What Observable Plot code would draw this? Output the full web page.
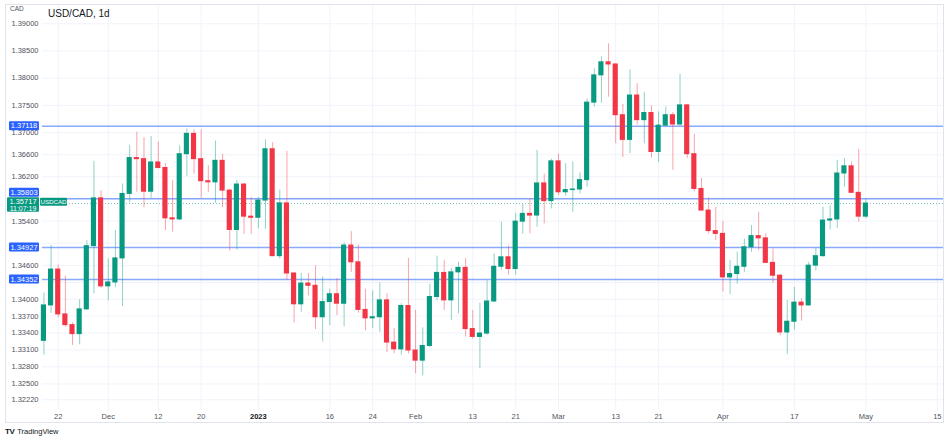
<!DOCTYPE html>
<html><head><meta charset="utf-8">
<script src="https://cdn.jsdelivr.net/npm/d3@7"></script>
<script src="https://cdn.jsdelivr.net/npm/@observablehq/plot@0.6"></script>
<style>
body{margin:0;background:#fff;font-family:"Liberation Sans",Arial,sans-serif;}
#wrap{position:relative;width:949px;height:442px;overflow:hidden;background:#fff;}
#frame{position:absolute;left:5px;top:4px;width:939px;height:419px;border:1px solid #e0e3eb;box-sizing:border-box;pointer-events:none}
#title{position:absolute;left:48px;top:8px;font-size:10px;color:#131722;}
#cad{position:absolute;left:10px;top:5px;font-size:6.5px;color:#50535e;}
#logo{position:absolute;left:5px;top:427px;font-size:7.5px;color:#131722;}
#logo b{font-size:8px;letter-spacing:-0.5px;margin-right:3px;}
</style></head><body>
<div id="wrap"><div id="chart"></div><div id="frame"></div>
<div id="cad">CAD</div><div id="title">USD/CAD, 1d</div>
<div id="logo"><b>TV</b>TradingView</div></div>
<script>
const firstDay = "2022-11-18", lastDay = "2023-05-17";
const holidays = ["2022-12-26"];
const opens = [1.3326,1.3389,1.3453,1.3373,1.3354,1.3338,1.3382,1.3495,1.3581,1.3423,
 1.3430,1.3473,1.3589,1.3654,1.3652,1.3593,1.3646,1.3636,1.3545,1.3543,
 1.3661,1.3698,1.3652,1.3612,1.3610,1.3649,1.3595,1.3524,1.3606,1.3548,
 1.3546,1.3577,1.3670,1.3477,1.3572,1.3446,1.3391,1.3428,1.3424,1.3368,
 1.3395,1.3409,1.3392,1.3496,1.3466,1.3381,1.3366,1.3368,1.3398,1.3323,
 1.3311,1.3388,1.3309,1.3291,1.3317,1.3404,1.3447,1.3398,1.3448,1.3456,
 1.3347,1.3333,1.3339,1.3396,1.3458,1.3475,1.3454,1.3539,1.3553,1.3550,
 1.3608,1.3576,1.3648,1.3592,1.3596,1.3597,1.3614,1.3755,1.3805,1.3829,
 1.3825,1.3732,1.3687,1.3768,1.3723,1.3736,1.3665,1.3713,1.3732,1.3715,
 1.3750,1.3661,1.3598,1.3559,1.3522,1.3517,1.3439,1.3445,1.3458,1.3493,
 1.3513,1.3509,1.3465,1.3442,1.3341,1.3360,1.3394,1.3389,1.3460,1.3477,
 1.3541,1.3543,1.3626,1.3639,1.3591,1.3548];
const highs = [1.3411,1.3496,1.3461,1.3441,1.3358,1.3399,1.3505,1.3648,1.3595,1.3472,
 1.3523,1.3607,1.3677,1.3701,1.3691,1.3693,1.3683,1.3644,1.3613,1.3676,
 1.3707,1.3705,1.3705,1.3640,1.3685,1.3661,1.3597,1.3613,1.3608,1.3583,
 1.3583,1.3687,1.3682,1.3596,1.3666,1.3448,1.3446,1.3446,1.3460,1.3440,
 1.3418,1.3437,1.3501,1.3521,1.3497,1.3418,1.3415,1.3429,1.3410,1.3348,
 1.3392,1.3473,1.3380,1.3349,1.3427,1.3477,1.3469,1.3455,1.3466,1.3473,
 1.3380,1.3393,1.3433,1.3481,1.3538,1.3495,1.3554,1.3570,1.3580,1.3668,
 1.3625,1.3652,1.3661,1.3644,1.3647,1.3627,1.3762,1.3817,1.3839,1.3863,
 1.3826,1.3752,1.3815,1.3790,1.3774,1.3749,1.3738,1.3747,1.3737,1.3807,
 1.3752,1.3697,1.3617,1.3582,1.3565,1.3539,1.3469,1.3484,1.3508,1.3532,
 1.3556,1.3517,1.3490,1.3445,1.3398,1.3421,1.3401,1.3466,1.3491,1.3565,
 1.3568,1.3650,1.3653,1.3647,1.3670,1.3580];
const lows = [1.3301,1.3375,1.3367,1.3350,1.3318,1.3319,1.3380,1.3410,1.3420,1.3397,
 1.3421,1.3387,1.3573,1.3592,1.3564,1.3581,1.3634,1.3523,1.3520,1.3541,
 1.3621,1.3625,1.3581,1.3592,1.3572,1.3564,1.3486,1.3488,1.3516,1.3516,
 1.3526,1.3525,1.3476,1.3472,1.3434,1.3358,1.3377,1.3406,1.3346,1.3324,
 1.3353,1.3371,1.3351,1.3448,1.3375,1.3344,1.3348,1.3341,1.3305,1.3303,
 1.3301,1.3303,1.3268,1.3264,1.3314,1.3398,1.3380,1.3362,1.3374,1.3333,
 1.3329,1.3277,1.3336,1.3394,1.3452,1.3443,1.3443,1.3516,1.3517,1.3529,
 1.3535,1.3562,1.3586,1.3585,1.3556,1.3589,1.3601,1.3747,1.3754,1.3765,
 1.3680,1.3655,1.3662,1.3714,1.3680,1.3654,1.3646,1.3712,1.3632,1.3711,
 1.3653,1.3593,1.3558,1.3517,1.3505,1.3413,1.3408,1.3427,1.3448,1.3484,
 1.3487,1.3464,1.3428,1.3335,1.3302,1.3345,1.3361,1.3388,1.3451,1.3475,
 1.3524,1.3527,1.3601,1.3590,1.3538,1.3544];
const closes = [1.3389,1.3453,1.3373,1.3354,1.3338,1.3382,1.3495,1.3581,1.3423,1.3430,
 1.3473,1.3589,1.3654,1.3652,1.3593,1.3646,1.3636,1.3545,1.3543,1.3661,
 1.3698,1.3652,1.3612,1.3610,1.3649,1.3595,1.3524,1.3606,1.3548,1.3546,
 1.3577,1.3670,1.3477,1.3572,1.3446,1.3391,1.3428,1.3424,1.3368,1.3395,
 1.3409,1.3392,1.3496,1.3466,1.3381,1.3366,1.3368,1.3398,1.3323,1.3311,
 1.3388,1.3309,1.3291,1.3317,1.3404,1.3447,1.3398,1.3448,1.3456,1.3347,
 1.3333,1.3339,1.3396,1.3458,1.3475,1.3454,1.3539,1.3553,1.3550,1.3608,
 1.3576,1.3648,1.3592,1.3596,1.3597,1.3614,1.3755,1.3805,1.3829,1.3825,
 1.3732,1.3687,1.3768,1.3723,1.3736,1.3665,1.3713,1.3732,1.3715,1.3750,
 1.3661,1.3598,1.3559,1.3522,1.3517,1.3439,1.3445,1.3458,1.3493,1.3513,
 1.3509,1.3465,1.3442,1.3341,1.3360,1.3394,1.3389,1.3460,1.3477,1.3541,
 1.3543,1.3626,1.3639,1.3591,1.3548,1.35717];
const tickDates = ["2022-11-22","2022-12-01","2022-12-12","2022-12-20","2023-01-02","2023-01-16","2023-01-24","2023-02-01","2023-02-13","2023-02-21","2023-03-01","2023-03-13","2023-03-21","2023-04-03","2023-04-17","2023-05-01","2023-05-15"];
const tickLabels = ["22","Dec","12","20","2023","16","24","Feb","13","21","Mar","13","21","Apr","17","May","15"];
const yearTick = "2023";
const yTicks = [1.39,1.385,1.38,1.375,1.37,1.366,1.362,1.358,1.354,1.35,1.346,1.343,1.34,1.337,1.334,1.331,1.328,1.325,1.3222];
const levels = [1.37118,1.35803,1.34927,1.34352];
const lastPrice = 1.35717;
const countdown = "11:07:19";
const symbol = "USDCAD";

const W = 949, H = 442, mL = 42, mR = 5, mT = 4, mB = 32;
const yDomain = [1.32032, 1.39357];
const GREEN = "#089981", RED = "#f23645", BLUE = "#2962ff";
const fmt = d3.utcFormat("%Y-%m-%d");
const days = d3.utcDays(new Date(firstDay), new Date(lastDay))
  .filter(d => d.getUTCDay() % 6 !== 0 && !holidays.includes(fmt(d)));
const idx = new Map(days.map((d, i) => [fmt(d), i]));
const candles = opens.map((o, i) => ({i, date: days[i], open: o, high: highs[i], low: lows[i], close: closes[i],
  col: closes[i] >= o ? GREEN : RED}));
const ticks = tickDates.map((d, k) => ({i: idx.get(d), label: tickLabels[k]}));
const labelOf = new Map(ticks.map(t => [t.i, t.label]));
const normalTicks = ticks.filter(t => t.label !== yearTick).map(t => t.i);
const boldTicks = ticks.filter(t => t.label === yearTick).map(t => t.i);

// layout of the price-scale label boxes (from the same y scale)
const ys = Plot.scale({y: {type: "log", domain: yDomain, range: [H - mB, mT]}});
const yCur = ys.apply(lastPrice);
const curBox = {top: yCur - 5.7, bottom: yCur + 8.7};
const levelBoxes = levels.map(v => {
  const h = 9;
  let top = ys.apply(v) - h / 2;
  if (top + h > curBox.top && top < curBox.bottom) top = curBox.top - h - 0.5;
  return {v, top, bottom: top + h};
});
const allBoxes = [curBox, ...levelBoxes];
const labelTicks = yTicks.filter(t => {
  const y = ys.apply(t);
  return !allBoxes.some(b => y >= b.top - 1 && y <= b.bottom + 1);
});

const chart = Plot.plot({
  width: W, height: H,
  marginLeft: mL, marginRight: mR, marginTop: mT, marginBottom: mB,
  style: {fontFamily: "'Liberation Sans', Arial, sans-serif", fontSize: "7.5px", background: "transparent"},
  x: {type: "linear", domain: [-0.2, idx.get(tickDates[tickDates.length-1]) + 1.0], axis: null},
  y: {type: "log", domain: yDomain, axis: null},
  color: {type: "identity"},
  marks: [
    Plot.ruleX(ticks.map(t => t.i), {stroke: "#f0f3fa"}),
    Plot.ruleY(yTicks, {stroke: "#f0f3fa"}),
    Plot.ruleY(levels, {stroke: BLUE, strokeOpacity: 0.55, strokeWidth: 1.5}),
    Plot.ruleY([lastPrice], {stroke: GREEN, strokeOpacity: 0.55, strokeDasharray: "1,2"}),
    Plot.ruleX(candles, {x: "i", y1: "low", y2: "high", stroke: "col", strokeOpacity: 0.45}),
    Plot.rect(candles, {x1: d => d.i - 0.36, x2: d => d.i + 0.36, y1: "open", y2: "close", fill: "col", insetTop: -0.5, insetBottom: -0.5}),
    Plot.axisY(labelTicks, {anchor: "left", tickSize: 0, tickPadding: 4, tickFormat: d => d.toFixed(5), fill: "#50535e", label: null}),
    Plot.axisX(normalTicks, {anchor: "bottom", tickSize: 0, tickPadding: 3, tickFormat: i => labelOf.get(i), fill: "#50535e", label: null}),
    Plot.axisX(boldTicks, {anchor: "bottom", tickSize: 0, tickPadding: 3, tickFormat: i => labelOf.get(i), fill: "#131722", fontWeight: "bold", label: null})
  ]
});
document.getElementById("chart").appendChild(chart);

const svg = d3.select(chart);
const g = svg.append("g").attr("font-family", "'Liberation Sans', Arial, sans-serif");
levelBoxes.forEach(b => {
  g.append("rect").attr("x", 9).attr("y", b.top).attr("width", 30).attr("height", b.bottom - b.top).attr("rx", 1).attr("fill", BLUE);
  g.append("text").attr("x", 24).attr("y", (b.top + b.bottom) / 2).attr("dy", "0.35em").attr("text-anchor", "middle")
    .attr("font-size", 7.5).attr("fill", "#fff").text(b.v.toFixed(5));
});
g.append("rect").attr("x", 7).attr("y", curBox.top).attr("width", 32).attr("height", curBox.bottom - curBox.top).attr("rx", 1).attr("fill", GREEN);
g.append("text").attr("x", 23).attr("y", curBox.top + 4).attr("dy", "0.35em").attr("text-anchor", "middle")
  .attr("font-size", 7.5).attr("fill", "#fff").text(lastPrice.toFixed(5));
g.append("text").attr("x", 23).attr("y", curBox.top + 10.8).attr("dy", "0.35em").attr("text-anchor", "middle")
  .attr("font-size", 7).attr("fill", "#fff").text(countdown);
g.append("rect").attr("x", 40).attr("y", curBox.top + 0.5).attr("width", 27).attr("height", 8).attr("rx", 1).attr("fill", GREEN);
g.append("text").attr("x", 53.5).attr("y", curBox.top + 4.5).attr("dy", "0.35em").attr("text-anchor", "middle")
  .attr("font-size", 6.2).attr("fill", "#fff").text(symbol);
</script>
</body></html>
